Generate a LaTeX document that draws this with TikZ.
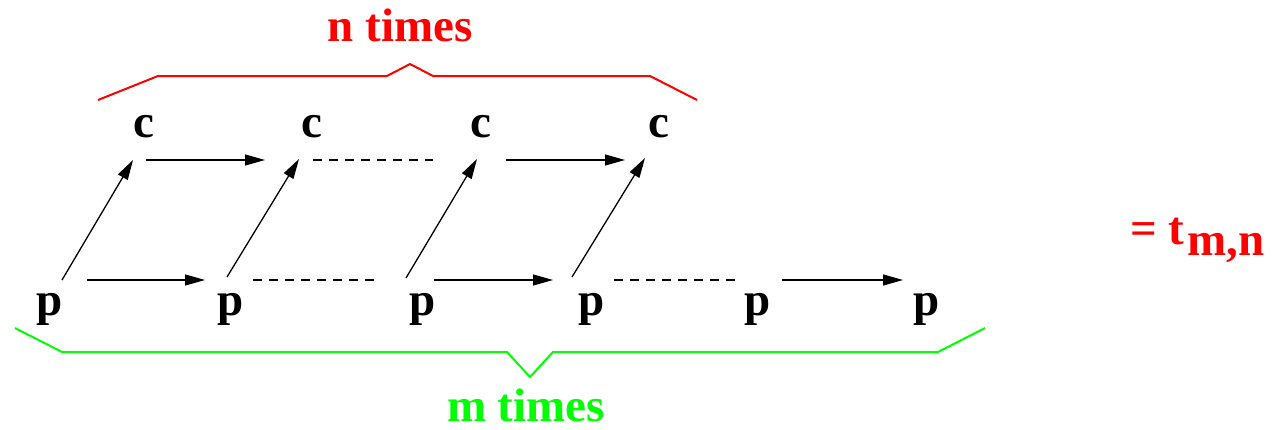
\documentclass[tikz,border=0pt]{standalone}
\usepackage{fontspec}
\setmainfont{Liberation Serif}
\usetikzlibrary{arrows.meta}

\begin{document}
\begin{tikzpicture}[x=1pt,y=-1pt,
  every node/.style={font=\fontsize{47}{50}\selectfont\bfseries,inner sep=0pt,anchor=base},
  arr/.style={->,line width=1.3pt}, dsh/.style={line width=1.3pt,dash pattern=on 9pt off 7pt},
  brace/.style={line width=2pt}, >={Triangle[length=20pt,width=11pt]}]
\useasboundingbox (0,0) rectangle (1272,429);
\node (p0) at (50,315) {p};
\node (p1) at (231,315) {p};
\node (p2) at (423,315) {p};
\node (p3) at (592,315) {p};
\node (p4) at (758,315) {p};
\node (p5) at (927,315) {p};
\node (c0) at (144,137) {c};
\node (c1) at (312,137) {c};
\node (c2) at (481,137) {c};
\node (c3) at (659,137) {c};
\node[text=red] (ntimes) at (400,41) {n times};
\node[text=green] (mtimes) at (526,421) {m times};
\node[text=red,anchor=base west] (tmn) at (1130,244) {= t\kern3pt\raisebox{-11pt}{m,n}};
% bottom row
\draw[arr] ([shift={(37,-35)}]p0.base) -- ([shift={(-26,-35)}]p1.base);
\draw[dsh] ([shift={(22,-35)}]p1.base) -- ([shift={(-48,-35)}]p2.base);
\draw[arr] ([shift={(11,-35)}]p2.base) -- ([shift={(-39,-35)}]p3.base);
\draw[dsh] ([shift={(22,-35)}]p3.base) -- ([shift={(-23,-35)}]p4.base);
\draw[arr] ([shift={(24,-35)}]p4.base) -- ([shift={(-24,-35)}]p5.base);
% top row
\draw[arr] ([shift={(2,23)}]c0.base) -- ([shift={(-47,23)}]c1.base);
\draw[dsh] ([shift={(1,23)}]c1.base) -- ([shift={(-48,23)}]c2.base);
\draw[arr] ([shift={(25,23)}]c2.base) -- ([shift={(-34,23)}]c3.base);
% p to c
\draw[arr] ([shift={(12,-35)}]p0.base) -- ([shift={(-11,23)}]c0.base);
\draw[arr] ([shift={(-4,-38)}]p1.base) -- ([shift={(-13,22)}]c1.base);
\draw[arr] ([shift={(-17,-37)}]p2.base) -- ([shift={(-4,22)}]c2.base);
\draw[arr] ([shift={(-20,-38)}]p3.base) -- ([shift={(-14,21)}]c3.base);
% braces
\draw[brace,red] (98,100) -- (158,76) -- (387,76) -- (410,64) -- (433,76) -- (650,76) -- (697,100);
\draw[brace,green] (15,328) -- (62,352) -- (507,352) -- (530,377) -- (553,352) -- (938,352) -- (985,328);
\end{tikzpicture}
\end{document}
